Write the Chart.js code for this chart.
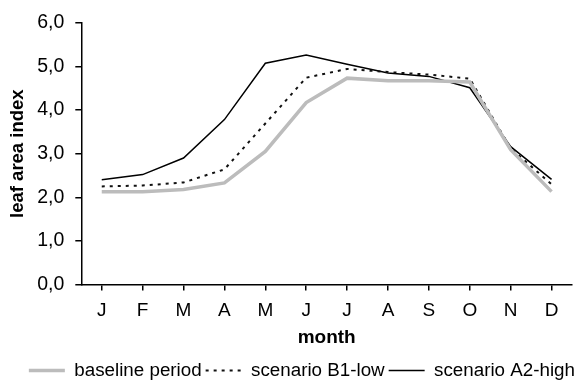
<!DOCTYPE html>
<html>
<head>
<meta charset="utf-8">
<script src="https://cdn.jsdelivr.net/npm/chart.js@4"></script>
<style>
  html, body { margin: 0; padding: 0; background: #fff; }
  #wrap { width: 580px; height: 381px; }
</style>
</head>
<body>
<div id="wrap"><canvas id="lai"></canvas></div>
<script>
const months = ['J', 'F', 'M', 'A', 'M', 'J', 'J', 'A', 'S', 'O', 'N', 'D'];
const baseline = [2.13, 2.13, 2.18, 2.33, 3.05, 4.17, 4.73, 4.67, 4.67, 4.64, 3.09, 2.13];
const b1Low = [2.25, 2.27, 2.34, 2.64, 3.69, 4.74, 4.94, 4.87, 4.81, 4.72, 3.12, 2.30];
const a2High = [2.40, 2.52, 2.90, 3.78, 5.07, 5.26, 5.05, 4.85, 4.77, 4.51, 3.16, 2.41];

Chart.defaults.font.family = 'Liberation Sans, Arial, sans-serif';
Chart.defaults.color = '#000';

new Chart('lai', {
  type: 'line',
  data: {
    labels: months,
    datasets: [
      {
        label: 'baseline period',
        data: baseline,
        borderColor: '#bcbcbc',
        backgroundColor: '#bcbcbc',
        borderWidth: 3.5,
        pointRadius: 0,
        tension: 0
      },
      {
        label: 'scenario B1-low',
        data: b1Low,
        borderColor: '#111',
        backgroundColor: '#111',
        borderWidth: 2,
        borderDash: [3, 5],
        pointRadius: 0,
        tension: 0
      },
      {
        label: 'scenario A2-high',
        data: a2High,
        borderColor: '#000',
        backgroundColor: '#000',
        borderWidth: 1.5,
        pointRadius: 0,
        tension: 0
      }
    ]
  },
  options: {
    responsive: true,
    maintainAspectRatio: false,
    animation: false,
    layout: { padding: { top: 4, right: 1, left: 6, bottom: -9 } },
    plugins: {
      tooltip: { enabled: false },
      legend: {
        position: 'bottom',
        align: 'end',
        labels: {
          usePointStyle: true,
          pointStyle: 'line',
          pointStyleWidth: 36,
          boxWidth: 36,
          padding: 4,
          color: '#000',
          font: { size: 18.8 },
          // keep the dash pattern of each series in its legend sample
          generateLabels: chart => {
            const items = Chart.defaults.plugins.legend.labels.generateLabels(chart);
            items.forEach((item, i) => {
              const ds = chart.data.datasets[i];
              item.lineDash = ds.borderDash || [];
              item.lineWidth = ds.borderWidth;
              item.strokeStyle = ds.borderColor;
            });
            return items;
          }
        }
      }
    },
    scales: {
      x: {
        offset: true,
        border: { color: '#000', width: 1.5 },
        grid: { drawOnChartArea: false, drawTicks: true, tickLength: 6, color: '#000', lineWidth: 1.5 },
        ticks: { color: '#000', font: { size: 19 }, padding: 9, maxRotation: 0 },
        title: { display: true, text: 'month', color: '#000', font: { size: 19, weight: 'bold' }, padding: { top: -5, bottom: 8 } }
      },
      y: {
        min: 0,
        max: 6,
        border: { color: '#000', width: 1.5 },
        grid: { drawOnChartArea: false, drawTicks: true, tickLength: 6, color: '#000', lineWidth: 1.5 },
        ticks: {
          stepSize: 1,
          color: '#000',
          font: { size: 19.5 },
          padding: 11,
          callback: v => v.toFixed(1).replace('.', ',')
        },
        title: { display: true, text: 'leaf area index', color: '#000', font: { size: 18.5, weight: 'bold' }, padding: { top: 1, bottom: -3 } }
      },
      // empty spacer on the right so the plot ends before the legend does
      spacer: {
        position: 'right',
        display: true,
        grid: { display: false },
        border: { display: false },
        ticks: { display: false },
        afterFit: s => { s.width = 7; }
      }
    }
  }
});
</script>
</body>
</html>
